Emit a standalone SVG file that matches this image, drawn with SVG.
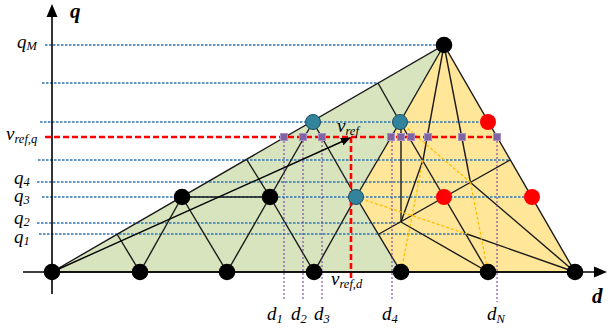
<svg xmlns="http://www.w3.org/2000/svg" width="608" height="329" viewBox="0 0 608 329">
<style>
.blue{stroke:#2e75b6;stroke-width:1.3;stroke-dasharray:2.5 1.5;fill:none}
.edge{stroke:#1a1a1a;stroke-width:1.4;fill:none}
.orange{stroke:#ffc000;stroke-width:1.3;stroke-dasharray:3 2;fill:none}
.purple{stroke:#7030a0;stroke-width:1;stroke-dasharray:2 2;fill:none}
.red{stroke:#ff0000;stroke-width:2.6;stroke-dasharray:6 3;fill:none}
.sq{fill:#8064a2;stroke:#a58fc4;stroke-width:1}
.blk{fill:#000}
.teal{fill:#31849b;stroke:#1f4e5f;stroke-width:1}
.rd{fill:#ff0000}
text{font-family:"Liberation Serif","Times New Roman",serif;font-style:italic;fill:#000}
.ax{font-weight:bold;font-size:21px}
.lb{font-size:19px}
.sb{font-size:12.5px}
</style>
<defs>
<marker id="ah" markerWidth="10" markerHeight="8" refX="9" refY="4" orient="auto" markerUnits="userSpaceOnUse">
<path d="M0,0 L10,4 L0,8 Z" fill="#000"/>
</marker>
</defs>
<g id="regions">
<polygon points="52,272 444,45 400,122 356,197 401,272" fill="#d7e4bd"/>
<polygon points="444,45 575,272 401,272 356,197 400,122" fill="#ffe699"/>
</g>
<g id="grid-lines">
<line class="blue" x1="45" y1="45" x2="440" y2="45"/>
<line class="blue" x1="42" y1="83" x2="378" y2="83"/>
<line class="blue" x1="40" y1="122" x2="488" y2="122"/>
<line class="blue" x1="38" y1="160" x2="510" y2="160"/>
<line class="blue" x1="37" y1="182" x2="471" y2="182"/>
<line class="blue" x1="42" y1="197" x2="532" y2="197"/>
<line class="blue" x1="37" y1="223" x2="401" y2="223"/>
<line class="blue" x1="39" y1="234" x2="467" y2="234"/>
</g>
<g id="connectors">
<polygon class="edge" points="52,272 444,45 575,272"/>
<line class="edge" x1="117" y1="234" x2="140" y2="272"/>
<line class="edge" x1="140" y1="272" x2="182" y2="197"/>
<line class="edge" x1="182" y1="197" x2="227" y2="272"/>
<line class="edge" x1="227" y1="272" x2="270" y2="197"/>
<line class="edge" x1="182" y1="197" x2="270" y2="197"/>
<line class="edge" x1="270" y1="197" x2="314" y2="272"/>
<line class="edge" x1="314" y1="272" x2="356" y2="197"/>
<line class="edge" x1="356" y1="197" x2="401" y2="272"/>
<line class="edge" x1="247" y1="160" x2="270" y2="197"/>
<line class="edge" x1="270" y1="197" x2="313" y2="122"/>
<line class="edge" x1="313" y1="122" x2="356" y2="197"/>
<line class="edge" x1="356" y1="197" x2="400" y2="122"/>
<line class="edge" x1="378" y1="83" x2="400" y2="122"/>
<line class="edge" x1="400" y1="122" x2="444" y2="45"/>
<line class="edge" x1="444" y1="45" x2="423" y2="160"/>
<line class="edge" x1="444" y1="45" x2="470.5" y2="182.5"/>
<line class="edge" x1="400" y1="122" x2="444" y2="197"/>
<line class="edge" x1="444" y1="197" x2="488" y2="272"/>
<line class="edge" x1="401" y1="122" x2="401" y2="222"/>
<line class="edge" x1="379" y1="234" x2="510" y2="160"/>
<line class="edge" x1="470.5" y1="182.5" x2="575" y2="272"/>
<line class="edge" x1="467" y1="234" x2="575" y2="272"/>
<line class="edge" x1="423" y1="160" x2="401" y2="222"/>
<line class="edge" x1="401" y1="222" x2="488" y2="272"/>
<line class="orange" x1="423" y1="160" x2="401" y2="272"/>
<line class="orange" x1="470.5" y1="182.5" x2="488" y2="272"/>
<line class="orange" x1="400" y1="122" x2="470.5" y2="182.5"/>
<line class="orange" x1="356" y1="197" x2="467" y2="234"/>
</g>
<g id="projections">
<line class="purple" x1="284" y1="137" x2="284" y2="300"/>
<line class="purple" x1="303" y1="137" x2="303" y2="300"/>
<line class="purple" x1="322" y1="137" x2="322" y2="300"/>
<line class="purple" x1="392" y1="137" x2="392" y2="299"/>
<line class="purple" x1="497" y1="137" x2="497" y2="302"/>
<line class="red" x1="45" y1="137" x2="497" y2="137"/>
<line class="red" x1="351" y1="137" x2="351" y2="280"/>
</g>
<g id="axes">
<line x1="52" y1="294" x2="52" y2="14" stroke="#000" stroke-width="1.6"/>
<polygon points="52,4 46.5,17 57.5,17" fill="#000"/>
<line x1="23" y1="272" x2="597" y2="272" stroke="#000" stroke-width="1.6"/>
<polygon points="607,272 594,266.5 594,277.5" fill="#000"/>
</g>
<g id="vref-arrow">
<line x1="52" y1="272" x2="350" y2="138" stroke="#000" stroke-width="1.4" marker-end="url(#ah)"/>
</g>
<g id="squares">
<rect class="sq" x="280.5" y="133.5" width="7" height="7"/>
<rect class="sq" x="299.5" y="133.5" width="7" height="7"/>
<rect class="sq" x="318.5" y="133.5" width="7" height="7"/>
<rect class="sq" x="387.5" y="133.5" width="7" height="7"/>
<rect class="sq" x="397.5" y="133.5" width="7" height="7"/>
<rect class="sq" x="407.5" y="133.5" width="7" height="7"/>
<rect class="sq" x="424.5" y="133.5" width="7" height="7"/>
<rect class="sq" x="458.5" y="133.5" width="7" height="7"/>
<rect class="sq" x="493.5" y="133.5" width="7" height="7"/>
</g>
<g id="node-b0"><circle class="blk" cx="52" cy="272" r="8.3"/></g>
<g id="node-b1"><circle class="blk" cx="140" cy="272" r="8.3"/></g>
<g id="node-b2"><circle class="blk" cx="227" cy="272" r="8.3"/></g>
<g id="node-b3"><circle class="blk" cx="314" cy="272" r="8.3"/></g>
<g id="node-b4"><circle class="blk" cx="401" cy="272" r="8.3"/></g>
<g id="node-b5"><circle class="blk" cx="488" cy="272" r="8.3"/></g>
<g id="node-b6"><circle class="blk" cx="575" cy="272" r="8.3"/></g>
<g id="node-b7"><circle class="blk" cx="182" cy="197" r="8.3"/></g>
<g id="node-b8"><circle class="blk" cx="270" cy="197" r="8.3"/></g>
<g id="node-apex"><circle class="blk" cx="444" cy="45" r="8.3"/></g>
<g id="node-t1"><circle class="teal" cx="313" cy="122" r="7.5"/></g>
<g id="node-t2"><circle class="teal" cx="400" cy="122" r="7.5"/></g>
<g id="node-t3"><circle class="teal" cx="356" cy="197" r="7.5"/></g>
<g id="node-r1"><circle class="rd" cx="488" cy="122" r="8"/></g>
<g id="node-r2"><circle class="rd" cx="444" cy="197" r="8"/></g>
<g id="node-r3"><circle class="rd" cx="532" cy="197" r="8"/></g>
<g id="labels">
<text class="ax" x="70" y="18">q</text>
<text class="ax" x="592" y="303">d</text>
<text class="lb" x="17" y="48">q<tspan class="sb" dy="2">M</tspan></text>
<text class="lb" x="6" y="140">v<tspan class="sb" dy="3">ref,q</tspan></text>
<text class="lb" x="14" y="184">q<tspan class="sb" dy="2">4</tspan></text>
<text class="lb" x="14" y="202">q<tspan class="sb" dy="2">3</tspan></text>
<text class="lb" x="14" y="224">q<tspan class="sb" dy="2">2</tspan></text>
<text class="lb" x="14" y="243">q<tspan class="sb" dy="2">1</tspan></text>
<text class="lb" x="337" y="132">v<tspan class="sb" dy="3">ref</tspan></text>
<text class="lb" x="331" y="285">v<tspan class="sb" dy="3">ref,d</tspan></text>
<text class="lb" x="267" y="320">d<tspan class="sb" dy="3">1</tspan></text>
<text class="lb" x="291" y="320">d<tspan class="sb" dy="3">2</tspan></text>
<text class="lb" x="314" y="320">d<tspan class="sb" dy="3">3</tspan></text>
<text class="lb" x="382" y="320">d<tspan class="sb" dy="3">4</tspan></text>
<text class="lb" x="487" y="320">d<tspan class="sb" dy="3">N</tspan></text>
</g>
</svg>
